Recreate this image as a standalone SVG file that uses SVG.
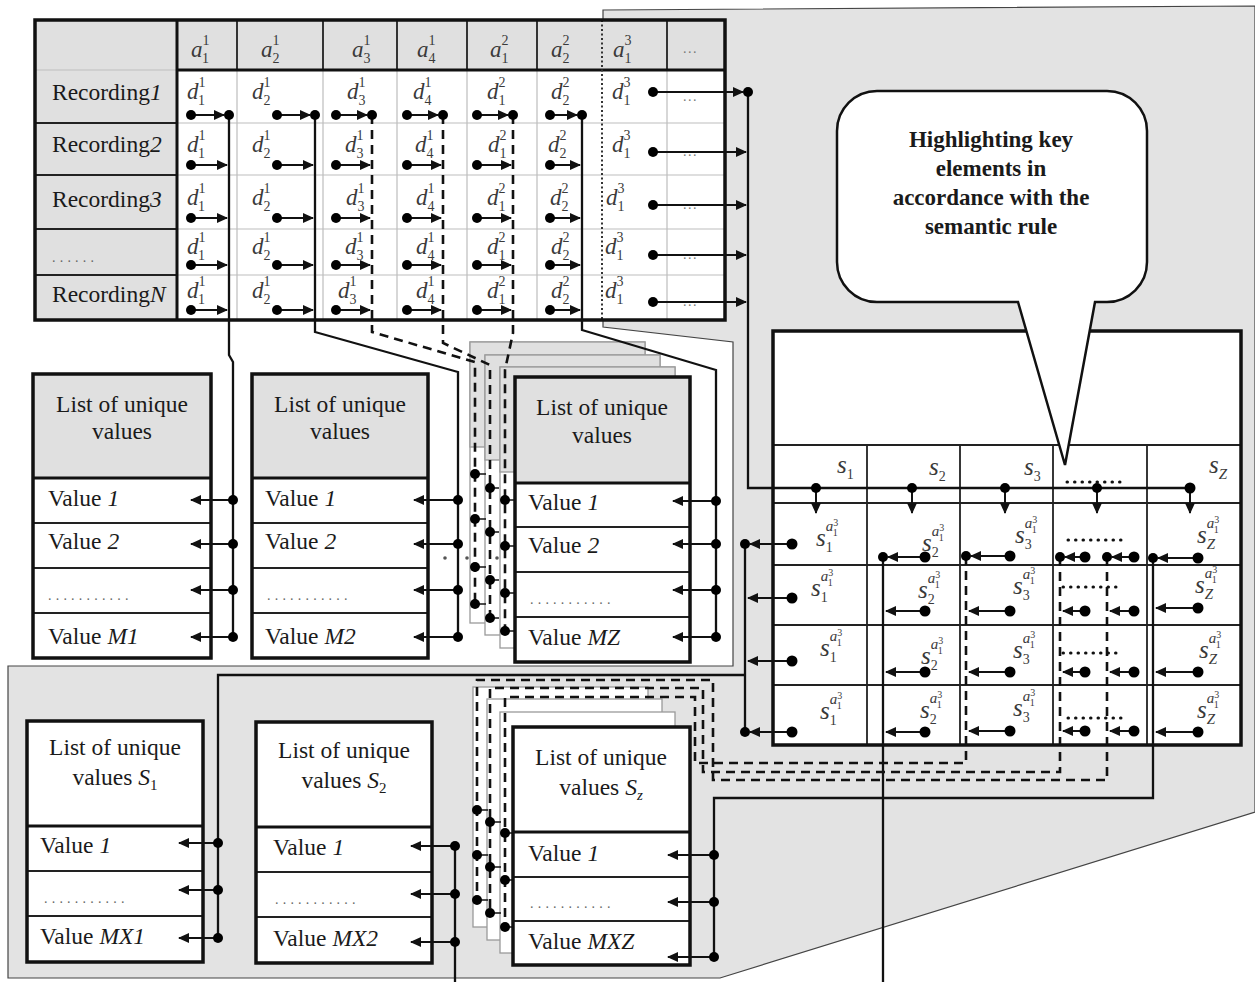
<svg xmlns="http://www.w3.org/2000/svg" width="1255" height="982" viewBox="0 0 1255 982">
<style>
text{font-family:"Liberation Serif","Times New Roman",serif;fill:#1a1a1a}
.t{font-size:23.5px}
.c{text-anchor:middle}
.i{font-style:italic}
.m{font-size:23px;font-style:italic;fill:#3a3a3a}
.s{font-size:25px;font-style:italic;fill:#3a3a3a}
.sp{font-size:14px;font-style:normal}
.sa{font-size:15px;font-style:italic}
.tn{font-size:10px;font-style:normal}
.bd{font-size:23px;font-weight:bold;text-anchor:middle}
.el{font-size:14px;fill:#666;letter-spacing:4.2px}
.e3{font-size:14px;fill:#777;letter-spacing:1.5px}
.hd{fill:#e0e0e0}
.wh{fill:#fff}
.frame{fill:none;stroke:#111;stroke-width:3.5}
.grid{stroke:#bdbdbd;stroke-width:1.2}
.dk{stroke:#222;stroke-width:1.8}
.sep{stroke:#111;stroke-width:3}
.layer{stroke:#9a9a9a;stroke-width:1.3}
.ln{fill:none;stroke:#111;stroke-width:2.3}
.ar{fill:none;stroke:#111;stroke-width:2;marker-end:url(#ah)}
.ds{fill:none;stroke:#111;stroke-width:2.6;stroke-dasharray:9,6}
.dt{fill:none;stroke:#111;stroke-width:3;stroke-dasharray:0.5,7;stroke-linecap:round}
.stub{stroke:#111;stroke-width:1.5}
</style>
<defs>
<marker id="ah" markerUnits="userSpaceOnUse" markerWidth="11" markerHeight="10" refX="10" refY="5" orient="auto"><path d="M0,0 L11,5 L0,10 z" fill="#111"/></marker>
</defs>

<g id="background">
<polygon points="603,10 1255,6 1255,812 720,978 8,978 8,666 733,666 733,342 603,327" fill="#e3e3e3" stroke="#444" stroke-width="1.2"/>
</g>

<g id="table-records">
<rect x="35" y="20" width="690" height="300" class="wh"/>
<rect x="35" y="20" width="142" height="300" class="hd"/>
<rect x="177" y="20" width="548" height="50" class="hd"/>
<path d="M237,70V320M323,70V320M397,70V320M467,70V320M537,70V320M667,70V320M177,123H725M177,175H725M177,229H725M177,275H725M35,70H177" class="grid"/>
<path d="M237,20V70M323,20V70M397,20V70M467,20V70M537,20V70M667,20V70M35,123H177M35,175H177M35,229H177M35,275H177" class="dk"/>
<path d="M177,20V320M177,70H725" class="sep"/>
<line x1="602" y1="20" x2="602" y2="320" stroke="#333" stroke-width="2" stroke-dasharray="2,2.5"/>
<rect x="35" y="20" width="690" height="300" class="frame"/>
<text x="191" y="57" class="m">a<tspan class="sp" dy="-12">1</tspan><tspan class="sp" dx="-7" dy="18">1</tspan></text>
<text x="261" y="57" class="m">a<tspan class="sp" dy="-12">1</tspan><tspan class="sp" dx="-7" dy="18">2</tspan></text>
<text x="352" y="57" class="m">a<tspan class="sp" dy="-12">1</tspan><tspan class="sp" dx="-7" dy="18">3</tspan></text>
<text x="417" y="57" class="m">a<tspan class="sp" dy="-12">1</tspan><tspan class="sp" dx="-7" dy="18">4</tspan></text>
<text x="490" y="57" class="m">a<tspan class="sp" dy="-12">2</tspan><tspan class="sp" dx="-7" dy="18">1</tspan></text>
<text x="551" y="57" class="m">a<tspan class="sp" dy="-12">2</tspan><tspan class="sp" dx="-7" dy="18">2</tspan></text>
<text x="613" y="57" class="m">a<tspan class="sp" dy="-12">3</tspan><tspan class="sp" dx="-7" dy="18">1</tspan></text>
<text x="683" y="53" class="e3">...</text>
<text x="52" y="100" class="t">Recording<tspan class="i">1</tspan></text>
<text x="52" y="152" class="t">Recording<tspan class="i">2</tspan></text>
<text x="52" y="207" class="t">Recording<tspan class="i">3</tspan></text>
<text x="52" y="262" class="el">......</text>
<text x="52" y="302" class="t">Recording<tspan class="i">N</tspan></text>
<!-- row 1 -->
<text x="187" y="99" class="m">d<tspan class="sp" dy="-12">1</tspan><tspan class="sp" dx="-7" dy="18">1</tspan></text>
<text x="252" y="99" class="m">d<tspan class="sp" dy="-12">1</tspan><tspan class="sp" dx="-7" dy="18">2</tspan></text>
<text x="347" y="99" class="m">d<tspan class="sp" dy="-12">1</tspan><tspan class="sp" dx="-7" dy="18">3</tspan></text>
<text x="413" y="99" class="m">d<tspan class="sp" dy="-12">1</tspan><tspan class="sp" dx="-7" dy="18">4</tspan></text>
<text x="487" y="99" class="m">d<tspan class="sp" dy="-12">2</tspan><tspan class="sp" dx="-7" dy="18">1</tspan></text>
<text x="551" y="99" class="m">d<tspan class="sp" dy="-12">2</tspan><tspan class="sp" dx="-7" dy="18">2</tspan></text>
<text x="612" y="99" class="m">d<tspan class="sp" dy="-12">3</tspan><tspan class="sp" dx="-7" dy="18">1</tspan></text>
<text x="683" y="101" class="e3">...</text>
<!-- row 2 -->
<text x="187" y="152" class="m">d<tspan class="sp" dy="-12">1</tspan><tspan class="sp" dx="-7" dy="18">1</tspan></text>
<text x="252" y="152" class="m">d<tspan class="sp" dy="-12">1</tspan><tspan class="sp" dx="-7" dy="18">2</tspan></text>
<text x="345" y="152" class="m">d<tspan class="sp" dy="-12">1</tspan><tspan class="sp" dx="-7" dy="18">3</tspan></text>
<text x="415" y="152" class="m">d<tspan class="sp" dy="-12">1</tspan><tspan class="sp" dx="-7" dy="18">4</tspan></text>
<text x="488" y="152" class="m">d<tspan class="sp" dy="-12">2</tspan><tspan class="sp" dx="-7" dy="18">1</tspan></text>
<text x="548" y="152" class="m">d<tspan class="sp" dy="-12">2</tspan><tspan class="sp" dx="-7" dy="18">2</tspan></text>
<text x="612" y="152" class="m">d<tspan class="sp" dy="-12">3</tspan><tspan class="sp" dx="-7" dy="18">1</tspan></text>
<text x="683" y="156" class="e3">...</text>
<!-- row 3 -->
<text x="187" y="205" class="m">d<tspan class="sp" dy="-12">1</tspan><tspan class="sp" dx="-7" dy="18">1</tspan></text>
<text x="252" y="205" class="m">d<tspan class="sp" dy="-12">1</tspan><tspan class="sp" dx="-7" dy="18">2</tspan></text>
<text x="346" y="205" class="m">d<tspan class="sp" dy="-12">1</tspan><tspan class="sp" dx="-7" dy="18">3</tspan></text>
<text x="416" y="205" class="m">d<tspan class="sp" dy="-12">1</tspan><tspan class="sp" dx="-7" dy="18">4</tspan></text>
<text x="487" y="205" class="m">d<tspan class="sp" dy="-12">2</tspan><tspan class="sp" dx="-7" dy="18">1</tspan></text>
<text x="550" y="205" class="m">d<tspan class="sp" dy="-12">2</tspan><tspan class="sp" dx="-7" dy="18">2</tspan></text>
<text x="606" y="205" class="m">d<tspan class="sp" dy="-12">3</tspan><tspan class="sp" dx="-7" dy="18">1</tspan></text>
<text x="683" y="209" class="e3">...</text>
<!-- row 4 -->
<text x="187" y="254" class="m">d<tspan class="sp" dy="-12">1</tspan><tspan class="sp" dx="-7" dy="18">1</tspan></text>
<text x="252" y="254" class="m">d<tspan class="sp" dy="-12">1</tspan><tspan class="sp" dx="-7" dy="18">2</tspan></text>
<text x="345" y="254" class="m">d<tspan class="sp" dy="-12">1</tspan><tspan class="sp" dx="-7" dy="18">3</tspan></text>
<text x="416" y="254" class="m">d<tspan class="sp" dy="-12">1</tspan><tspan class="sp" dx="-7" dy="18">4</tspan></text>
<text x="487" y="254" class="m">d<tspan class="sp" dy="-12">2</tspan><tspan class="sp" dx="-7" dy="18">1</tspan></text>
<text x="551" y="254" class="m">d<tspan class="sp" dy="-12">2</tspan><tspan class="sp" dx="-7" dy="18">2</tspan></text>
<text x="605" y="254" class="m">d<tspan class="sp" dy="-12">3</tspan><tspan class="sp" dx="-7" dy="18">1</tspan></text>
<text x="683" y="259" class="e3">...</text>
<!-- row 5 -->
<text x="187" y="298" class="m">d<tspan class="sp" dy="-12">1</tspan><tspan class="sp" dx="-7" dy="18">1</tspan></text>
<text x="252" y="298" class="m">d<tspan class="sp" dy="-12">1</tspan><tspan class="sp" dx="-7" dy="18">2</tspan></text>
<text x="338" y="298" class="m">d<tspan class="sp" dy="-12">1</tspan><tspan class="sp" dx="-7" dy="18">3</tspan></text>
<text x="416" y="298" class="m">d<tspan class="sp" dy="-12">1</tspan><tspan class="sp" dx="-7" dy="18">4</tspan></text>
<text x="487" y="298" class="m">d<tspan class="sp" dy="-12">2</tspan><tspan class="sp" dx="-7" dy="18">1</tspan></text>
<text x="551" y="298" class="m">d<tspan class="sp" dy="-12">2</tspan><tspan class="sp" dx="-7" dy="18">2</tspan></text>
<text x="605" y="298" class="m">d<tspan class="sp" dy="-12">3</tspan><tspan class="sp" dx="-7" dy="18">1</tspan></text>
<text x="683" y="306" class="e3">...</text>
</g>

<g id="list-m1">
<rect x="33" y="374" width="178" height="104" class="hd"/>
<rect x="33" y="478" width="178" height="180" class="wh"/>
<path d="M33,523H211M33,568H211M33,613H211" class="dk"/>
<path d="M33,478H211" class="sep"/>
<rect x="33" y="374" width="178" height="284" class="frame"/>
<text x="122" y="412" class="t c">List of unique</text>
<text x="122" y="439" class="t c">values</text>
<text x="48" y="506" class="t">Value <tspan class="i">1</tspan></text>
<text x="48" y="549" class="t">Value <tspan class="i">2</tspan></text>
<text x="48" y="600" class="el">...........</text>
<text x="48" y="644" class="t">Value <tspan class="i">M1</tspan></text>
</g>

<g id="list-m2">
<rect x="252" y="374" width="176" height="104" class="hd"/>
<rect x="252" y="478" width="176" height="180" class="wh"/>
<path d="M252,523H428M252,568H428M252,613H428" class="dk"/>
<path d="M252,478H428" class="sep"/>
<rect x="252" y="374" width="176" height="284" class="frame"/>
<text x="340" y="412" class="t c">List of unique</text>
<text x="340" y="439" class="t c">values</text>
<text x="265" y="506" class="t">Value <tspan class="i">1</tspan></text>
<text x="265" y="549" class="t">Value <tspan class="i">2</tspan></text>
<text x="267" y="600" class="el">...........</text>
<text x="265" y="644" class="t">Value <tspan class="i">M2</tspan></text>
</g>

<g id="stack-mz">
<rect x="470" y="342" width="175" height="281" class="wh layer"/>
<rect x="470" y="342" width="175" height="105" class="hd layer"/>
<rect x="485" y="355" width="175" height="280" class="wh layer"/>
<rect x="485" y="355" width="175" height="105" class="hd layer"/>
<rect x="500" y="367" width="175" height="281" class="wh layer"/>
<rect x="500" y="367" width="175" height="105" class="hd layer"/>
</g>

<g id="list-mz">
<rect x="515" y="377" width="175" height="106" class="hd"/>
<rect x="515" y="483" width="175" height="179" class="wh"/>
<path d="M515,527H690M515,572H690M515,617H690" class="dk"/>
<path d="M515,483H690" class="sep"/>
<rect x="515" y="377" width="175" height="285" class="frame"/>
<text x="602" y="415" class="t c">List of unique</text>
<text x="602" y="443" class="t c">values</text>
<text x="528" y="510" class="t">Value <tspan class="i">1</tspan></text>
<text x="528" y="553" class="t">Value <tspan class="i">2</tspan></text>
<text x="530" y="604" class="el">...........</text>
<text x="528" y="645" class="t">Value <tspan class="i">MZ</tspan></text>
</g>

<g id="list-s1">
<rect x="27" y="721" width="176" height="241" class="wh"/>
<path d="M27,871H203M27,916H203" class="dk"/>
<path d="M27,826H203" class="sep"/>
<rect x="27" y="721" width="176" height="241" class="frame"/>
<text x="115" y="755" class="t c">List of unique</text>
<text x="115" y="785" class="t c">values <tspan class="i">S</tspan><tspan font-size="15" dy="5">1</tspan></text>
<text x="40" y="853" class="t">Value <tspan class="i">1</tspan></text>
<text x="44" y="903" class="el">...........</text>
<text x="40" y="944" class="t">Value <tspan class="i">MX1</tspan></text>
</g>

<g id="list-s2">
<rect x="256" y="722" width="176" height="241" class="wh"/>
<path d="M256,872H432M256,917H432" class="dk"/>
<path d="M256,827H432" class="sep"/>
<rect x="256" y="722" width="176" height="241" class="frame"/>
<text x="344" y="758" class="t c">List of unique</text>
<text x="344" y="788" class="t c">values <tspan class="i">S</tspan><tspan font-size="15" dy="5">2</tspan></text>
<text x="273" y="855" class="t">Value <tspan class="i">1</tspan></text>
<text x="275" y="904" class="el">...........</text>
<text x="273" y="946" class="t">Value <tspan class="i">MX2</tspan></text>
</g>

<g id="stack-sz">
<rect x="473" y="687" width="175" height="240" class="wh layer"/>
<rect x="487" y="699" width="175" height="241" class="wh layer"/>
<rect x="500" y="712" width="175" height="241" class="wh layer"/>
</g>

<g id="list-sz">
<rect x="513" y="727" width="177" height="238" class="wh"/>
<path d="M513,877H690M513,921H690" class="dk"/>
<path d="M513,832H690" class="sep"/>
<rect x="513" y="727" width="177" height="238" class="frame"/>
<text x="601" y="765" class="t c">List of unique</text>
<text x="601" y="795" class="t c">values <tspan class="i">S</tspan><tspan font-size="15" font-style="italic" dy="5">z</tspan></text>
<text x="528" y="861" class="t">Value <tspan class="i">1</tspan></text>
<text x="530" y="908" class="el">...........</text>
<text x="528" y="949" class="t">Value <tspan class="i">MXZ</tspan></text>
</g>

<g id="table-semantic">
<rect x="773" y="331" width="468" height="414" class="wh"/>
<path d="M773,445H1241M867,445V745M960,445V745M1053,445V745M1147,445V745M773,503H1241M773,565H1241M773,625H1241M773,685H1241" class="dk"/>
<rect x="773" y="331" width="468" height="414" class="frame"/>
<text x="837" y="473" class="s">s<tspan class="sp" dy="6">1</tspan></text>
<text x="929" y="475" class="s">s<tspan class="sp" dy="6">2</tspan></text>
<text x="1024" y="475" class="s">s<tspan class="sp" dy="6">3</tspan></text>
<text x="1209" y="473" class="s">s<tspan class="sa" dy="6">Z</tspan></text>
<!-- row 1 -->
<text x="816" y="546" class="s">s<tspan class="sa" dy="-15">a</tspan><tspan class="tn" dy="-5">3</tspan><tspan class="tn" dx="-5.5" dy="10">1</tspan><tspan class="sp" dx="-12" dy="16">1</tspan></text>
<text x="922" y="551" class="s">s<tspan class="sa" dy="-15">a</tspan><tspan class="tn" dy="-5">3</tspan><tspan class="tn" dx="-5.5" dy="10">1</tspan><tspan class="sp" dx="-12" dy="16">2</tspan></text>
<text x="1015" y="543" class="s">s<tspan class="sa" dy="-15">a</tspan><tspan class="tn" dy="-5">3</tspan><tspan class="tn" dx="-5.5" dy="10">1</tspan><tspan class="sp" dx="-12" dy="16">3</tspan></text>
<text x="1197" y="543" class="s">s<tspan class="sa" dy="-15">a</tspan><tspan class="tn" dy="-5">3</tspan><tspan class="tn" dx="-5.5" dy="10">1</tspan><tspan class="sa" dx="-12" dy="16">Z</tspan></text>
<!-- row 2 -->
<text x="811" y="596" class="s">s<tspan class="sa" dy="-15">a</tspan><tspan class="tn" dy="-5">3</tspan><tspan class="tn" dx="-5.5" dy="10">1</tspan><tspan class="sp" dx="-12" dy="16">1</tspan></text>
<text x="918" y="598" class="s">s<tspan class="sa" dy="-15">a</tspan><tspan class="tn" dy="-5">3</tspan><tspan class="tn" dx="-5.5" dy="10">1</tspan><tspan class="sp" dx="-12" dy="16">2</tspan></text>
<text x="1013" y="594" class="s">s<tspan class="sa" dy="-15">a</tspan><tspan class="tn" dy="-5">3</tspan><tspan class="tn" dx="-5.5" dy="10">1</tspan><tspan class="sp" dx="-12" dy="16">3</tspan></text>
<text x="1195" y="593" class="s">s<tspan class="sa" dy="-15">a</tspan><tspan class="tn" dy="-5">3</tspan><tspan class="tn" dx="-5.5" dy="10">1</tspan><tspan class="sa" dx="-12" dy="16">Z</tspan></text>
<!-- row 3 -->
<text x="820" y="656" class="s">s<tspan class="sa" dy="-15">a</tspan><tspan class="tn" dy="-5">3</tspan><tspan class="tn" dx="-5.5" dy="10">1</tspan><tspan class="sp" dx="-12" dy="16">1</tspan></text>
<text x="921" y="664" class="s">s<tspan class="sa" dy="-15">a</tspan><tspan class="tn" dy="-5">3</tspan><tspan class="tn" dx="-5.5" dy="10">1</tspan><tspan class="sp" dx="-12" dy="16">2</tspan></text>
<text x="1013" y="658" class="s">s<tspan class="sa" dy="-15">a</tspan><tspan class="tn" dy="-5">3</tspan><tspan class="tn" dx="-5.5" dy="10">1</tspan><tspan class="sp" dx="-12" dy="16">3</tspan></text>
<text x="1199" y="658" class="s">s<tspan class="sa" dy="-15">a</tspan><tspan class="tn" dy="-5">3</tspan><tspan class="tn" dx="-5.5" dy="10">1</tspan><tspan class="sa" dx="-12" dy="16">Z</tspan></text>
<!-- row 4 -->
<text x="820" y="719" class="s">s<tspan class="sa" dy="-15">a</tspan><tspan class="tn" dy="-5">3</tspan><tspan class="tn" dx="-5.5" dy="10">1</tspan><tspan class="sp" dx="-12" dy="16">1</tspan></text>
<text x="920" y="718" class="s">s<tspan class="sa" dy="-15">a</tspan><tspan class="tn" dy="-5">3</tspan><tspan class="tn" dx="-5.5" dy="10">1</tspan><tspan class="sp" dx="-12" dy="16">2</tspan></text>
<text x="1013" y="716" class="s">s<tspan class="sa" dy="-15">a</tspan><tspan class="tn" dy="-5">3</tspan><tspan class="tn" dx="-5.5" dy="10">1</tspan><tspan class="sp" dx="-12" dy="16">3</tspan></text>
<text x="1197" y="718" class="s">s<tspan class="sa" dy="-15">a</tspan><tspan class="tn" dy="-5">3</tspan><tspan class="tn" dx="-5.5" dy="10">1</tspan><tspan class="sa" dx="-12" dy="16">Z</tspan></text>
</g>

<g id="connectors">
<path d="M229,115V355L233,362V637" class="ln"/>
<path d="M315,115V332L458,372V637" class="ln"/>
<path d="M372,115V332L475,362V604" class="ds"/>
<path d="M443,115V343L490,365V618" class="ds"/>
<path d="M513,115V333L505,370V631" class="ds"/>
<path d="M582,115V330L716,370V637" class="ln"/>
<path d="M748,92V488H1190" class="ln" stroke-width="2.8"/>
<g>
<line x1="191" y1="115" x2="224" y2="115" class="ar"/><line x1="277" y1="115" x2="310" y2="115" class="ar"/><line x1="336" y1="115" x2="367" y2="115" class="ar"/><line x1="407" y1="115" x2="438" y2="115" class="ar"/><line x1="477" y1="115" x2="508" y2="115" class="ar"/><line x1="550" y1="115" x2="577" y2="115" class="ar"/><line x1="653" y1="92" x2="743" y2="92" class="ar"/>
<circle cx="191" cy="115" r="5"/><circle cx="229" cy="115" r="5"/><circle cx="277" cy="115" r="5"/><circle cx="315" cy="115" r="5"/><circle cx="336" cy="115" r="5"/><circle cx="372" cy="115" r="5"/><circle cx="407" cy="115" r="5"/><circle cx="443" cy="115" r="5"/><circle cx="477" cy="115" r="5"/><circle cx="513" cy="115" r="5"/><circle cx="550" cy="115" r="5"/><circle cx="582" cy="115" r="5"/><circle cx="653" cy="92" r="5"/><circle cx="748" cy="92" r="5"/>
</g>
<g>
<line x1="191" y1="165" x2="227" y2="165" class="ar"/><line x1="277" y1="165" x2="313" y2="165" class="ar"/><line x1="336" y1="165" x2="370" y2="165" class="ar"/><line x1="407" y1="165" x2="441" y2="165" class="ar"/><line x1="477" y1="165" x2="511" y2="165" class="ar"/><line x1="550" y1="165" x2="580" y2="165" class="ar"/><line x1="653" y1="152" x2="746" y2="152" class="ar"/>
<circle cx="191" cy="165" r="5"/><circle cx="277" cy="165" r="5"/><circle cx="336" cy="165" r="5"/><circle cx="407" cy="165" r="5"/><circle cx="477" cy="165" r="5"/><circle cx="550" cy="165" r="5"/><circle cx="653" cy="152" r="5"/>
<line x1="191" y1="218" x2="227" y2="218" class="ar"/><line x1="277" y1="218" x2="313" y2="218" class="ar"/><line x1="336" y1="218" x2="370" y2="218" class="ar"/><line x1="407" y1="218" x2="441" y2="218" class="ar"/><line x1="477" y1="218" x2="511" y2="218" class="ar"/><line x1="550" y1="218" x2="580" y2="218" class="ar"/><line x1="653" y1="205" x2="746" y2="205" class="ar"/>
<circle cx="191" cy="218" r="5"/><circle cx="277" cy="218" r="5"/><circle cx="336" cy="218" r="5"/><circle cx="407" cy="218" r="5"/><circle cx="477" cy="218" r="5"/><circle cx="550" cy="218" r="5"/><circle cx="653" cy="205" r="5"/>
<line x1="191" y1="265" x2="227" y2="265" class="ar"/><line x1="277" y1="265" x2="313" y2="265" class="ar"/><line x1="336" y1="265" x2="370" y2="265" class="ar"/><line x1="407" y1="265" x2="441" y2="265" class="ar"/><line x1="477" y1="265" x2="511" y2="265" class="ar"/><line x1="550" y1="265" x2="580" y2="265" class="ar"/><line x1="653" y1="255" x2="746" y2="255" class="ar"/>
<circle cx="191" cy="265" r="5"/><circle cx="277" cy="265" r="5"/><circle cx="336" cy="265" r="5"/><circle cx="407" cy="265" r="5"/><circle cx="477" cy="265" r="5"/><circle cx="550" cy="265" r="5"/><circle cx="653" cy="255" r="5"/>
<line x1="191" y1="310" x2="227" y2="310" class="ar"/><line x1="277" y1="310" x2="313" y2="310" class="ar"/><line x1="336" y1="310" x2="370" y2="310" class="ar"/><line x1="407" y1="310" x2="441" y2="310" class="ar"/><line x1="477" y1="310" x2="511" y2="310" class="ar"/><line x1="550" y1="310" x2="580" y2="310" class="ar"/><line x1="653" y1="302" x2="746" y2="302" class="ar"/>
<circle cx="191" cy="310" r="5"/><circle cx="277" cy="310" r="5"/><circle cx="336" cy="310" r="5"/><circle cx="407" cy="310" r="5"/><circle cx="477" cy="310" r="5"/><circle cx="550" cy="310" r="5"/><circle cx="653" cy="302" r="5"/>
</g>
<g>
<line x1="233" y1="500" x2="191" y2="500" class="ar"/><line x1="233" y1="544" x2="191" y2="544" class="ar"/><line x1="233" y1="590" x2="191" y2="590" class="ar"/><line x1="233" y1="637" x2="191" y2="637" class="ar"/>
<circle cx="233" cy="500" r="5"/><circle cx="233" cy="544" r="5"/><circle cx="233" cy="590" r="5"/><circle cx="233" cy="637" r="5"/>
<line x1="458" y1="500" x2="414" y2="500" class="ar"/><line x1="458" y1="544" x2="414" y2="544" class="ar"/><line x1="458" y1="590" x2="414" y2="590" class="ar"/><line x1="458" y1="637" x2="414" y2="637" class="ar"/>
<circle cx="458" cy="500" r="5"/><circle cx="458" cy="544" r="5"/><circle cx="458" cy="590" r="5"/><circle cx="458" cy="637" r="5"/>
<line x1="716" y1="501" x2="673" y2="501" class="ar"/><line x1="716" y1="544" x2="673" y2="544" class="ar"/><line x1="716" y1="590" x2="673" y2="590" class="ar"/><line x1="716" y1="637" x2="673" y2="637" class="ar"/>
<circle cx="716" cy="501" r="5"/><circle cx="716" cy="544" r="5"/><circle cx="716" cy="590" r="5"/><circle cx="716" cy="637" r="5"/>
<circle cx="445" cy="558" r="1.8" fill="#555"/><circle cx="467" cy="558" r="1.8" fill="#555"/><circle cx="497" cy="558" r="1.8" fill="#555"/>
</g>
<g>
<path d="M475,474H486M475,519H486M475,567H486M475,604H486M490,488H499M490,532H499M490,580H499M490,618H499M505,500H515M505,546H515M505,593H515M505,631H515" class="stub"/>
<circle cx="475" cy="474" r="5"/><circle cx="475" cy="519" r="5"/><circle cx="475" cy="567" r="5"/><circle cx="475" cy="604" r="5"/>
<circle cx="490" cy="488" r="5"/><circle cx="490" cy="532" r="5"/><circle cx="490" cy="580" r="5"/><circle cx="490" cy="618" r="5"/>
<circle cx="505" cy="500" r="5"/><circle cx="505" cy="546" r="5"/><circle cx="505" cy="593" r="5"/><circle cx="505" cy="631" r="5"/>
</g>
<g>
<line x1="816" y1="488" x2="816" y2="513" class="ar"/><line x1="912" y1="488" x2="912" y2="513" class="ar"/><line x1="1005" y1="488" x2="1005" y2="513" class="ar"/><line x1="1097" y1="488" x2="1097" y2="513" class="ar"/><line x1="1190" y1="488" x2="1190" y2="513" class="ar"/>
<circle cx="816" cy="488" r="5"/><circle cx="912" cy="488" r="5"/><circle cx="1005" cy="488" r="5"/><circle cx="1097" cy="488" r="5"/><circle cx="1190" cy="488" r="5.5"/>
</g>
<path d="M745,544V732" class="ln"/>
<path d="M745,675H218V938" class="ln"/>
<path d="M883,557V982" class="ln"/>
<path d="M966,556V763H695V697H505V927" class="ds"/>
<path d="M1060,557V772H703V688H490V913" class="ds"/>
<path d="M1107,557V780H713V680H477V900" class="ds"/>
<path d="M1153,558V798H714V957" class="ln"/>
<path d="M455,846V982" class="ln"/>
<g>
<line x1="792" y1="544" x2="750" y2="544" class="ar"/><line x1="792" y1="598" x2="748" y2="598" class="ar"/><line x1="792" y1="661" x2="748" y2="661" class="ar"/><line x1="792" y1="732" x2="750" y2="732" class="ar"/>
<circle cx="792" cy="544" r="5.5"/><circle cx="792" cy="598" r="5.5"/><circle cx="792" cy="661" r="5.5"/><circle cx="792" cy="732" r="5.5"/><circle cx="745" cy="544" r="5"/><circle cx="745" cy="732" r="5"/>
<line x1="925" y1="557" x2="888" y2="557" class="ar"/><line x1="925" y1="611" x2="886" y2="611" class="ar"/><line x1="925" y1="672" x2="886" y2="672" class="ar"/><line x1="925" y1="732" x2="886" y2="732" class="ar"/>
<circle cx="925" cy="557" r="5.5"/><circle cx="925" cy="611" r="5.5"/><circle cx="925" cy="672" r="5.5"/><circle cx="925" cy="732" r="5.5"/><circle cx="883" cy="557" r="5"/>
<line x1="1010" y1="556" x2="971" y2="556" class="ar"/><line x1="1010" y1="611" x2="969" y2="611" class="ar"/><line x1="1010" y1="672" x2="969" y2="672" class="ar"/><line x1="1010" y1="731" x2="969" y2="731" class="ar"/>
<circle cx="1010" cy="556" r="5.5"/><circle cx="1010" cy="611" r="5.5"/><circle cx="1010" cy="672" r="5.5"/><circle cx="1010" cy="731" r="5.5"/><circle cx="966" cy="556" r="5"/>
<line x1="1085" y1="557" x2="1065" y2="557" class="ar"/><line x1="1085" y1="611" x2="1063" y2="611" class="ar"/><line x1="1085" y1="672" x2="1063" y2="672" class="ar"/><line x1="1085" y1="731" x2="1063" y2="731" class="ar"/>
<circle cx="1085" cy="557" r="5.5"/><circle cx="1085" cy="611" r="5.5"/><circle cx="1085" cy="672" r="5.5"/><circle cx="1085" cy="731" r="5.5"/><circle cx="1060" cy="557" r="5"/>
<line x1="1134" y1="557" x2="1112" y2="557" class="ar"/><line x1="1134" y1="611" x2="1110" y2="611" class="ar"/><line x1="1134" y1="672" x2="1110" y2="672" class="ar"/><line x1="1134" y1="731" x2="1110" y2="731" class="ar"/>
<circle cx="1134" cy="557" r="5.5"/><circle cx="1134" cy="611" r="5.5"/><circle cx="1134" cy="672" r="5.5"/><circle cx="1134" cy="731" r="5.5"/><circle cx="1107" cy="557" r="5"/>
<line x1="1198" y1="558" x2="1158" y2="558" class="ar"/><line x1="1198" y1="608" x2="1156" y2="608" class="ar"/><line x1="1198" y1="672" x2="1156" y2="672" class="ar"/><line x1="1198" y1="732" x2="1156" y2="732" class="ar"/>
<circle cx="1198" cy="558" r="5.5"/><circle cx="1198" cy="608" r="5.5"/><circle cx="1198" cy="672" r="5.5"/><circle cx="1198" cy="732" r="5.5"/><circle cx="1153" cy="558" r="5"/>
<path d="M1067,482H1122M1068,540H1122M1063,587H1120M1063,653H1120M1068,718H1122" class="dt"/>
</g>
<g>
<line x1="218" y1="843" x2="179" y2="843" class="ar"/><line x1="218" y1="890" x2="179" y2="890" class="ar"/><line x1="218" y1="938" x2="179" y2="938" class="ar"/>
<circle cx="218" cy="843" r="5"/><circle cx="218" cy="890" r="5"/><circle cx="218" cy="938" r="5"/>
<line x1="455" y1="846" x2="411" y2="846" class="ar"/><line x1="455" y1="894" x2="411" y2="894" class="ar"/><line x1="455" y1="942" x2="411" y2="942" class="ar"/>
<circle cx="455" cy="846" r="5"/><circle cx="455" cy="894" r="5"/><circle cx="455" cy="942" r="5"/>
<line x1="714" y1="855" x2="668" y2="855" class="ar"/><line x1="714" y1="902" x2="668" y2="902" class="ar"/><line x1="714" y1="957" x2="668" y2="957" class="ar"/>
<circle cx="714" cy="855" r="5"/><circle cx="714" cy="902" r="5"/><circle cx="714" cy="957" r="5"/>
<path d="M477,810H488M477,855H488M477,900H488M490,822H501M490,867H501M490,913H501M505,833H514M505,880H514M505,927H514" class="stub"/>
<circle cx="477" cy="810" r="5"/><circle cx="477" cy="855" r="5"/><circle cx="477" cy="900" r="5"/>
<circle cx="490" cy="822" r="5"/><circle cx="490" cy="867" r="5"/><circle cx="490" cy="913" r="5"/>
<circle cx="505" cy="833" r="5"/><circle cx="505" cy="880" r="5"/><circle cx="505" cy="927" r="5"/>
</g>
</g>

<g id="callout">
<path d="M877,91H1107A40,40 0 0 1 1147,131V262A40,40 0 0 1 1107,302H1095L1065,465L1018,302H877A40,40 0 0 1 837,262V131A40,40 0 0 1 877,91Z" fill="#fff" stroke="#111" stroke-width="2.5"/>
<text x="991" y="147" class="bd">Highlighting key</text>
<text x="991" y="176" class="bd">elements in</text>
<text x="991" y="205" class="bd">accordance with the</text>
<text x="991" y="234" class="bd">semantic rule</text>
</g>
</svg>
